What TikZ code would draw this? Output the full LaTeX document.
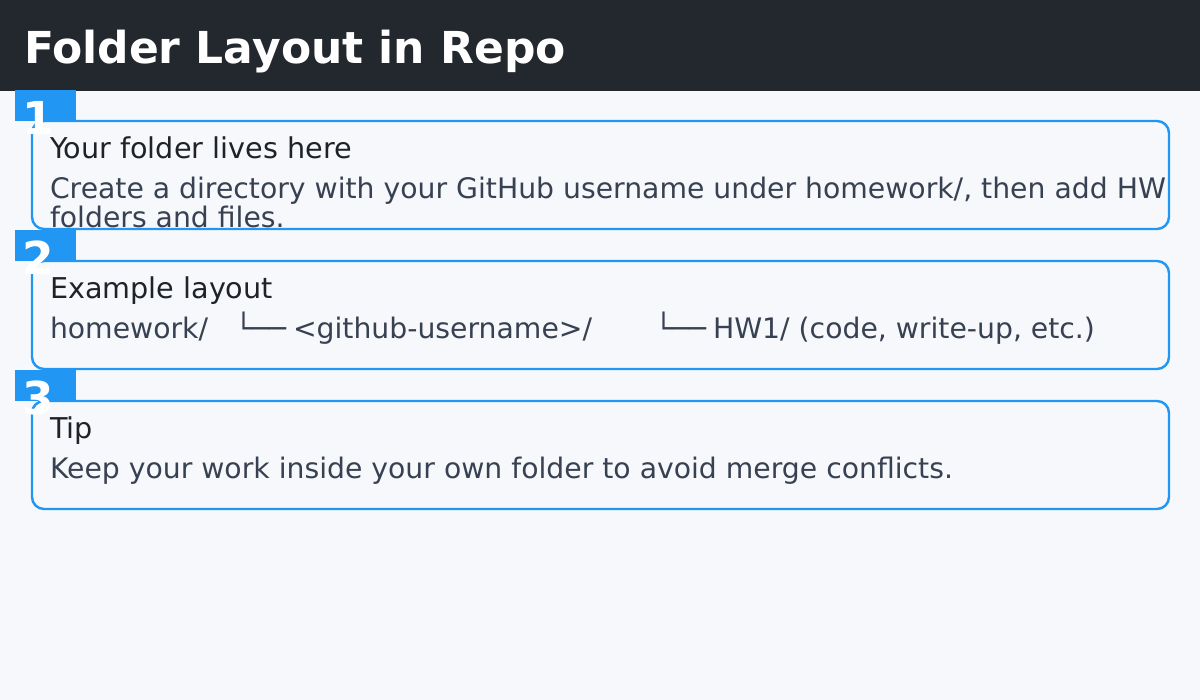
\documentclass[tikz,border=0pt]{standalone}
\usepackage{fontspec}
\setmainfont{DejaVu Sans}
\definecolor{bg}{HTML}{F6F8FB}
\definecolor{hdr}{HTML}{23282F}
\definecolor{accent}{HTML}{2196F3}
\definecolor{headtxt}{HTML}{1F2328}
\definecolor{bodytxt}{HTML}{374151}
\tikzset{
  txt/.style={anchor=base west, inner sep=0pt, outer sep=0pt},
  title/.style={txt, text=white, font=\fontsize{33}{40}\selectfont\bfseries},
  head/.style={txt, text=headtxt, font=\fontsize{21.5}{24}\selectfont},
  body/.style={txt, text=bodytxt, font=\fontsize{21.2}{24}\selectfont},
  card/.style={draw=accent, line width=1.8pt, fill=bg, rounded corners=9pt},
  badge/.style={fill=accent, draw=none},
  num/.style={anchor=base, inner sep=0pt, text=white, font=\fontsize{34}{40}\selectfont\bfseries},
}
\begin{document}
\begin{tikzpicture}[x=0.75pt, y=-0.75pt]
\useasboundingbox (0,0) rectangle (1200,700);
\fill[bg] (0,0) rectangle (1200,700);
\fill[hdr] (0,0) rectangle (1200,91);
\node[title] (ttl) at (24,63) {Folder Layout in Repo};
% card 1
\fill[badge] (15,90) rectangle (76,121);
\draw[card] (32,121) rectangle (1169,229);
\node[num] (n1) at (38,134) {1};
\node[head] (h1) at (50,158) {Your folder lives here};
\node[body] (b1) at (50,198) {Create a directory with your GitHub username under homework/, then add HW};
\node[body] (b1b) at (50,227) {folders and files.};
% card 2
\fill[badge] (15,230) rectangle (76,261);
\draw[card] (32,261) rectangle (1169,369);
\node[num] (n2) at (38,274) {2};
\node[head] (h2) at (50,298) {Example layout};
\node[body] (b2a) at (50,338) {homework/};
\node[body] (b2b) at (235,338) {└──};
\node[body] (b2c) at (293,338) {<github-username>/};
\node[body] (b2d) at (655,338) {└──};
\node[body] (b2e) at (713,338) {HW1/ (code, write-up, etc.)};
% card 3
\fill[badge] (15,370) rectangle (76,401);
\draw[card] (32,401) rectangle (1169,509);
\node[num] (n3) at (38,414) {3};
\node[head] (h3) at (50,438) {Tip};
\node[body] (b3) at (50,478) {Keep your work inside your own folder to avoid merge conflicts.};
\end{tikzpicture}
\end{document}
